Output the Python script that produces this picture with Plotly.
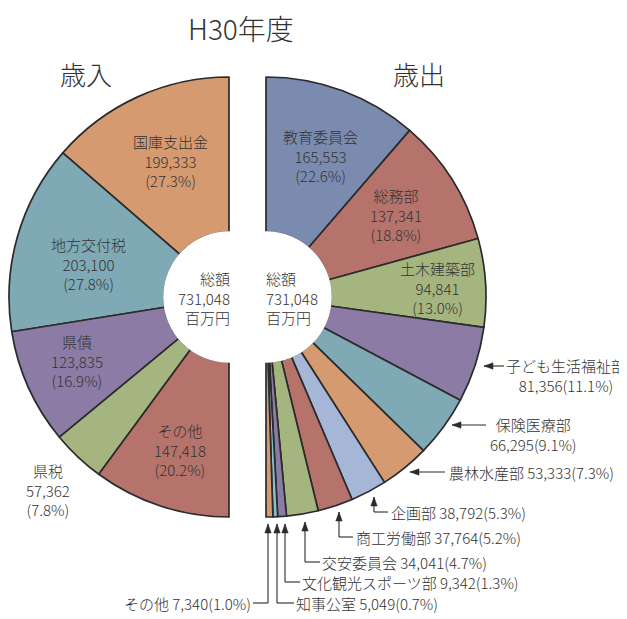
import plotly.graph_objects as go

# window is 627x619; the page body adds an 8px margin, so the figure is 8px smaller
OFF = 8
W, H = 627 - OFF, 619 - OFF

# ---------------- data ----------------
rev_labels = ["国庫支出金", "地方交付税", "県債", "県税", "その他"]
rev_values = [199333, 203100, 123835, 57362, 147418]
rev_pcts = [27.3, 27.8, 16.9, 7.8, 20.2]
rev_colors = ["#D69A70", "#7FA9B5", "#8C7BA5", "#A5B57F", "#B5736C"]

exp_labels = ["教育委員会", "総務部", "土木建築部", "子ども生活福祉部", "保険医療部",
              "農林水産部", "企画部", "商工労働部", "交安委員会",
              "文化観光スポーツ部", "知事公室", "その他"]
exp_values = [165553, 137341, 94841, 81356, 66295, 53333, 38792, 37764, 34041,
              9342, 5049, 7340]
exp_pcts = [22.6, 18.8, 13.0, 11.1, 9.1, 7.3, 5.3, 5.2, 4.7, 1.3, 0.7, 1.0]
exp_colors = ["#7A8BAF", "#B5736C", "#A5B57F", "#8C7BA5", "#7FA9B5", "#D69A70",
              "#A6B6D6", "#B5736C", "#A5B57F", "#8C7BA5", "#84BFCE", "#D69A70"]

total_text = ["総額", "731,048", "百万円"]
title_text = "H30年度"

# ---------------- helpers ----------------
FONT = "Noto Sans CJK JP, Noto Sans, sans-serif"
TXT = "#333333"
LINE = "#2b2b2b"


def X(px):
    return (px - OFF) / W


def Y(py):
    return 1 - (py - OFF) / H


R = 220
HOLE_R = 65
CY = 297
LCX, RCX = 229, 266


def domain(cx):
    return dict(x=[X(cx - R), X(cx + R)], y=[Y(CY + R), Y(CY - R)])


fig = go.Figure()

# left half: blank half first, then slices run counter-clockwise from 12 o'clock
fig.add_trace(go.Pie(
    labels=["_blank"] + rev_labels, values=[sum(rev_values)] + rev_values,
    sort=False, direction="counterclockwise", rotation=0, hole=HOLE_R / R,
    marker=dict(colors=["rgba(0,0,0,0)"] + rev_colors,
                line=dict(color=LINE, width=[0] + [1.7] * len(rev_values))),
    textinfo="none", hoverinfo="skip", showlegend=False, domain=domain(LCX),
))
# right half: slices clockwise from 12 o'clock, blank half last
fig.add_trace(go.Pie(
    labels=exp_labels + ["_blank"], values=exp_values + [sum(exp_values)],
    sort=False, direction="clockwise", rotation=0, hole=HOLE_R / R,
    marker=dict(colors=exp_colors + ["rgba(0,0,0,0)"],
                line=dict(color=LINE, width=[1.7] * len(exp_values) + [0])),
    textinfo="none", hoverinfo="skip", showlegend=False, domain=domain(RCX),
))

annotations = []
shapes = []


def label(text, px, py, size=15, xanchor="center", align="center"):
    annotations.append(dict(
        text=text, x=X(px), y=Y(py), xref="paper", yref="paper",
        xanchor=xanchor, yanchor="middle", align=align, showarrow=False,
        font=dict(family=FONT, size=size, color=TXT, weight=300),
    ))


def fmt(v, p):
    return f"{v:,}<br>({p}%)"


def arrow(points):
    """points: list of pixel points, first is arrow tip."""
    for (x0, y0), (x1, y1) in zip(points[:-1], points[1:]):
        shapes.append(dict(type="line", xref="paper", yref="paper",
                           x0=X(x0), y0=Y(y0), x1=X(x1), y1=Y(y1),
                           line=dict(color=LINE, width=1.1), layer="above"))
    (tx, ty), (nx, ny) = points[0], points[1]
    L, Wd = 9, 3.2
    if abs(nx - tx) > abs(ny - ty):  # horizontal
        s = 1 if nx > tx else -1
        pts = [(tx, ty), (tx + s * L, ty - Wd), (tx + s * L, ty + Wd)]
    else:
        s = 1 if ny > ty else -1
        pts = [(tx, ty), (tx - Wd, ty + s * L), (tx + Wd, ty + s * L)]
    path = "M " + " L ".join(f"{X(a)},{Y(b)}" for a, b in pts) + " Z"
    shapes.append(dict(type="path", xref="paper", yref="paper", path=path,
                       fillcolor=LINE, line=dict(color=LINE, width=0.5), layer="above"))


# white hole cover (removes outline on inner arc)
for cx in (LCX, RCX):
    shapes.append(dict(type="circle", xref="paper", yref="paper",
                       x0=X(cx - HOLE_R - 0.8), x1=X(cx + HOLE_R + 0.8),
                       y0=Y(CY + HOLE_R + 0.8), y1=Y(CY - HOLE_R - 0.8),
                       fillcolor="white", line=dict(width=0), layer="above"))

# titles
label(title_text, 241, 28, size=28)
label("歳入", 86, 73, size=26)
label("歳出", 419, 73, size=26)

# center totals
label("<br>".join(total_text), 232, 298, xanchor="right", align="right")
label("<br>".join(total_text), 264, 298, xanchor="left", align="left")

# revenue labels
rev_pos = [(170, 161), (88, 264), (77, 361), (48, 490), (180, 450)]
for name, v, p, (px, py) in zip(rev_labels, rev_values, rev_pcts, rev_pos):
    label(f"{name}<br>{fmt(v, p)}", px, py)

# expenditure inside labels
in_pos = [(320, 156), (396, 215), (437, 288)]
for i, (px, py) in enumerate(in_pos):
    label(f"{exp_labels[i]}<br>{fmt(exp_values[i], exp_pcts[i])}", px, py)

# expenditure outside labels
label(f"{exp_labels[3]}<br>{exp_values[3]:,}({exp_pcts[3]}%)", 566, 375)
arrow([(484, 366), (504, 366)])
label(f"{exp_labels[4]}<br>{exp_values[4]:,}({exp_pcts[4]}%)", 533, 434)
arrow([(452, 425), (486, 425)])
label(f"{exp_labels[5]} {exp_values[5]:,}({exp_pcts[5]}%)", 447, 472, xanchor="left")
arrow([(410, 472), (445, 472)])

bottom = [
    (6, (389, 512), [(374, 497), (374, 512), (388, 512)], "left"),
    (7, (354, 537), [(339, 512), (339, 537), (353, 537)], "left"),
    (8, (320, 562), [(305, 522), (305, 562), (320, 562)], "left"),
    (9, (300, 582), [(285, 524), (285, 582), (300, 582)], "left"),
    (10, (294, 603), [(277, 524), (277, 603), (294, 603)], "left"),
    (11, (253, 603), [(268, 524), (268, 603), (253, 603)], "right"),
]
for i, (px, py), pts, anc in bottom:
    label(f"{exp_labels[i]} {exp_values[i]:,}({exp_pcts[i]}%)", px, py,
          xanchor=anc, align=anc)
    arrow(pts)

fig.update_layout(
    width=W, height=H, margin=dict(l=0, r=0, t=0, b=0),
    paper_bgcolor="white", plot_bgcolor="white",
    annotations=annotations, shapes=shapes, showlegend=False,
)

fig.write_html("out.html")
